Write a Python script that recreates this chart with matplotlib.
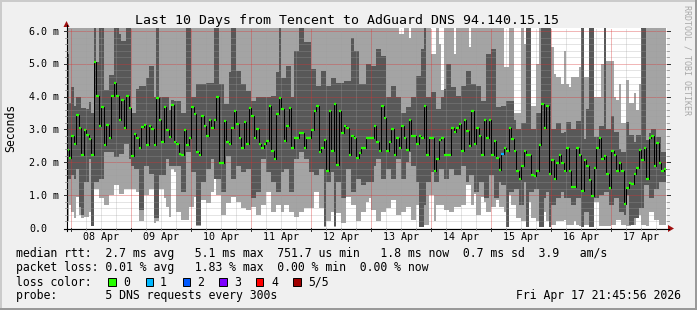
import numpy as np
import matplotlib
matplotlib.use("Agg")
import matplotlib.pyplot as plt
from matplotlib.lines import Line2D
from matplotlib.patches import Rectangle, Polygon

# ---------------- data (hourly bins, values in milliseconds) ----------------
title = "Last 10 Days from Tencent to AdGuard DNS 94.140.15.15"
day_labels = ["08 Apr", "09 Apr", "10 Apr", "11 Apr", "12 Apr",
              "13 Apr", "14 Apr", "15 Apr", "16 Apr", "17 Apr"]
y_labels = ["0.0", "1.0 m", "2.0 m", "3.0 m", "4.0 m", "5.0 m", "6.0 m"]
first_bin_hour = 22          # hours after 07 Apr 00:00 of first bin
n_bins = 240

median = [
    2.39, 2.13, 2.80, 2.56, 3.45, 3.04, 2.21, 2.97, 2.82, 2.70,
    2.21, 5.04, 4.03, 3.12, 3.67, 2.52, 3.13, 2.74, 4.01, 4.41,
    4.03, 3.28, 3.91, 3.06, 4.03, 3.65, 2.19, 2.86, 2.74, 2.45,
    3.08, 3.14, 2.54, 3.10, 3.00, 2.54, 3.97, 3.30, 2.62, 3.68,
    2.98, 2.76, 3.76, 2.62, 2.56, 2.25, 2.21, 2.98, 2.52, 2.74,
    3.67, 3.46, 2.31, 2.21, 3.42, 3.10, 2.80, 3.30, 3.06, 3.30,
    3.98, 1.98, 1.98, 3.27, 2.61, 2.57, 3.06, 3.55, 3.16, 2.74,
    2.44, 3.24, 2.56, 3.64, 3.40, 2.74, 3.00, 2.57, 2.45, 2.57,
    2.64, 3.71, 2.33, 2.09, 3.48, 3.97, 3.61, 2.64, 3.12, 3.64,
    2.45, 2.74, 2.74, 2.88, 2.88, 2.45, 2.74, 2.74, 2.97, 3.55,
    3.71, 2.31, 2.45, 2.67, 1.73, 3.55, 2.33, 3.79, 1.91, 3.55,
    2.88, 3.12, 3.06, 2.21, 2.80, 2.74, 2.13, 2.27, 2.43, 2.45,
    2.74, 2.74, 2.74, 3.12, 2.62, 2.33, 3.71, 3.34, 2.33, 2.62,
    3.00, 2.21, 2.74, 2.45, 3.12, 2.74, 2.39, 3.30, 2.80, 2.80,
    2.56, 2.80, 2.74, 3.71, 2.21, 2.74, 2.74, 1.73, 2.09, 2.68,
    2.74, 2.21, 2.21, 2.21, 3.04, 2.92, 3.06, 3.18, 2.33, 3.30,
    2.94, 2.49, 3.55, 2.56, 3.06, 2.80, 2.21, 3.30, 2.74, 3.30,
    2.21, 2.64, 2.13, 1.77, 2.25, 2.43, 2.33, 3.06, 2.70, 2.33,
    1.73, 1.48, 1.89, 2.33, 2.21, 2.21, 1.61, 1.59, 1.73, 2.52,
    3.77, 3.04, 3.73, 1.65, 2.07, 1.48, 1.97, 2.21, 1.97, 1.73,
    2.45, 1.73, 1.24, 1.24, 2.45, 2.21, 1.12, 2.07, 1.89, 1.46,
    0.98, 1.83, 2.45, 2.74, 2.09, 2.19, 1.65, 1.22, 2.33, 2.21,
    1.73, 1.97, 1.73, 0.74, 1.22, 1.36, 1.34, 1.65, 1.83, 2.37,
    2.07, 2.45, 1.48, 2.74, 2.80, 1.89, 2.58, 1.97, 1.73, 1.80,
]

# 2nd / 4th sorted ping (dark smoke)
ping_hi = [
    5.3, 3.8, 4.3, 3.7, 4.0, 4.0, 3.66, 3.66, 3.63, 3.85,
    3.5, 6.5, 5.04, 6.5, 6.5, 4.2, 4.2, 4.67, 4.67, 6.5,
    6.5, 5.9, 5.7, 5.7, 6.5, 6.5, 3.5, 3.5, 4.23, 4.33,
    4.33, 4.33, 4.58, 4.94, 4.94, 4.0, 6.5, 4.0, 3.98, 3.98,
    3.98, 3.6, 3.9, 3.88, 3.88, 3.88, 3.5, 3.5, 6.5, 6.5,
    3.98, 3.98, 4.38, 4.38, 4.38, 4.38, 4.43, 4.43, 4.43, 6.5,
    6.5, 4.38, 4.38, 3.78, 3.78, 4.74, 6.5, 6.5, 4.79, 4.79,
    4.38, 4.38, 4.18, 4.18, 3.88, 3.88, 3.98, 3.98, 3.98, 3.98,
    3.98, 3.98, 4.03, 4.03, 4.74, 6.5, 4.58, 4.58, 4.94, 4.94,
    4.0, 5.4, 5.4, 6.5, 6.5, 5.65, 5.65, 5.65, 4.84, 4.84,
    4.33, 4.33, 4.79, 4.79, 4.33, 4.33, 4.58, 4.58, 4.43, 4.43,
    4.43, 4.48, 4.48, 4.48, 5.8, 5.4, 5.4, 4.38, 4.38, 4.38,
    5.0, 5.0, 4.94, 4.94, 5.45, 5.45, 5.24, 5.24, 3.98, 3.98,
    4.33, 4.33, 3.98, 3.98, 3.5, 3.5, 3.68, 3.68, 3.98, 3.98,
    4.64, 4.64, 5.45, 6.5, 3.98, 3.98, 4.13, 4.13, 3.63, 3.63,
    4.0, 4.23, 5.0, 5.0, 4.28, 4.28, 4.03, 4.03, 4.33, 4.33,
    4.79, 4.79, 4.38, 4.38, 4.33, 4.33, 3.88, 3.88, 5.3, 5.3,
    5.45, 5.45, 3.68, 3.68, 3.73, 3.73, 3.88, 3.88, 3.88, 3.3,
    3.0, 3.0, 3.2, 3.2, 6.5, 6.5, 3.0, 3.0, 3.5, 3.5,
    6.5, 6.5, 6.5, 6.5, 3.0, 3.0, 3.2, 3.2, 2.9, 2.92,
    3.22, 3.22, 3.02, 3.02, 3.27, 3.27, 6.5, 2.72, 3.63, 6.5,
    6.5, 2.77, 2.77, 3.12, 3.12, 6.5, 3.02, 3.02, 3.42, 2.92,
    2.92, 2.41, 2.31, 2.31, 3.22, 2.82, 2.82, 2.62, 2.82, 2.82,
    6.5, 6.5, 2.67, 2.9, 3.02, 3.02, 2.77, 2.77, 2.31, 2.31,
]

ping_lo = [
    1.5, 1.5, 1.6, 1.5, 1.8, 0.65, 0.4, 1.4, 1.4, 2.1,
    0.05, 1.4, 1.4, 1.5, 1.5, 2.3, 2.3, 2.3, 2.3, 2.15,
    2.15, 2.25, 2.25, 2.55, 2.55, 2.1, 1.9, 1.8, 1.8, 0.55,
    0.55, 1.9, 1.9, 1.65, 1.65, 0.3, 0.3, 1.6, 1.6, 1.6,
    2.1, 1.9, 1.9, 1.9, 1.9, 1.9, 1.1, 1.1, 2.3, 2.3,
    1.7, 1.7, 0.1, 0.1, 1.4, 1.4, 1.8, 1.8, 2.1, 1.5,
    1.5, 1.5, 1.1, 1.1, 2.2, 2.2, 1.5, 1.5, 1.9, 1.9,
    1.7, 1.7, 1.8, 1.8, 0.9, 0.9, 1.1, 1.1, 2.1, 2.1,
    1.7, 1.7, 1.4, 1.4, 1.1, 1.1, 1.7, 1.8, 1.8, 1.1,
    1.1, 2.1, 2.1, 2.3, 2.3, 2.1, 2.1, 1.7, 1.7, 1.6,
    1.6, 1.8, 1.8, 0.05, 1.4, 1.4, 1.7, 0.05, 1.4, 1.4,
    0.9, 0.9, 1.8, 1.8, 1.1, 1.1, 1.5, 1.5, 1.3, 1.3,
    1.4, 1.4, 1.4, 1.9, 2.1, 2.1, 1.5, 1.5, 1.8, 1.8,
    1.5, 1.5, 2.1, 2.1, 1.5, 1.5, 2.0, 2.3, 1.9, 1.9,
    1.4, 0.03, 0.03, 0.7, 1.4, 1.4, 1.7, 1.4, 1.4, 1.8,
    1.8, 1.5, 1.5, 1.8, 1.8, 1.6, 1.6, 1.6, 1.9, 1.9,
    1.4, 1.6, 1.6, 1.1, 1.1, 1.4, 1.4, 0.9, 0.9, 1.6,
    1.6, 0.9, 0.9, 1.4, 1.3, 1.3, 0.03, 1.1, 1.1, 1.2,
    1.2, 0.7, 0.7, 1.4, 0.03, 1.1, 1.1, 1.2, 1.2, 0.03,
    0.03, 0.9, 1.1, 0.03, 0.7, 0.7, 0.9, 0.9, 1.1, 0.9,
    0.9, 0.9, 0.7, 0.7, 0.9, 0.9, 0.03, 0.5, 0.5, 0.03,
    0.03, 0.9, 0.9, 1.0, 1.0, 1.1, 1.1, 0.7, 0.7, 0.9,
    0.9, 0.5, 0.5, 0.4, 1.0, 0.1, 0.1, 0.3, 0.3, 0.6,
    0.6, 1.3, 1.3, 0.9, 0.9, 1.2, 1.2, 1.4, 1.4, 1.4,
]

# 1st / 5th sorted ping (light smoke)
ping_min = [
    0.2, 0.7, 0.5, 0.3, 0.95, 0.4, 0.3, 0.35, 0.35, 0.5,
    0.05, 1.2, 1.2, 0.9, 0.9, 0.7, 0.7, 1.0, 1.0, 1.3,
    1.3, 1.05, 1.05, 1.2, 1.2, 1.2, 1.2, 1.2, 1.1, 0.2,
    0.2, 1.0, 1.0, 1.2, 1.2, 0.15, 0.2, 1.2, 1.2, 0.9,
    0.65, 0.35, 1.8, 1.7, 0.5, 0.5, 0.25, 0.25, 0.25, 0.65,
    0.65, 0.95, 0.05, 0.05, 0.85, 0.85, 0.75, 0.75, 1.1, 1.5,
    1.0, 1.0, 0.4, 0.4, 0.75, 0.75, 0.95, 0.95, 0.8, 0.8,
    0.6, 0.6, 0.55, 0.55, 0.65, 0.65, 0.4, 0.4, 0.7, 0.7,
    1.1, 1.1, 0.5, 0.5, 0.7, 0.7, 0.5, 0.7, 0.7, 0.5,
    0.5, 0.35, 0.35, 0.5, 0.5, 0.6, 0.6, 0.6, 0.6, 1.1,
    1.1, 0.6, 0.6, 0.03, 0.2, 0.2, 0.5, 0.03, 0.45, 0.45,
    0.15, 0.15, 0.95, 0.95, 0.7, 0.7, 0.2, 0.2, 0.5, 0.5,
    0.8, 0.9, 0.55, 0.55, 0.2, 0.2, 0.5, 0.5, 0.6, 0.6,
    0.85, 0.85, 0.4, 0.4, 0.5, 0.5, 0.65, 0.65, 0.25, 0.25,
    0.7, 0.03, 0.03, 0.1, 0.1, 1.0, 1.0, 0.2, 0.7, 0.7,
    0.7, 0.55, 0.55, 0.5, 0.5, 0.65, 0.65, 0.65, 0.7, 0.7,
    1.3, 1.3, 0.7, 1.05, 0.4, 0.4, 0.95, 0.8, 0.5, 0.5,
    0.65, 0.65, 0.85, 0.65, 0.65, 0.5, 0.03, 1.0, 0.7, 0.7,
    0.3, 0.3, 0.2, 0.2, 0.03, 0.8, 0.3, 0.3, 0.2, 0.03,
    0.03, 0.5, 0.2, 0.03, 0.1, 0.1, 0.2, 0.2, 0.2, 0.25,
    0.1, 0.1, 0.1, 0.2, 0.1, 0.05, 0.03, 0.1, 0.1, 0.03,
    0.03, 0.8, 0.8, 0.05, 0.05, 0.05, 0.05, 0.05, 0.1, 0.1,
    0.25, 0.25, 0.1, 0.1, 0.05, 0.05, 0.1, 0.1, 0.4, 0.4,
    0.1, 0.1, 0.05, 0.5, 0.5, 0.25, 0.25, 0.1, 0.1, 0.1,
]

ping_max = [
    6.5, 6.5, 6.5, 6.5, 6.5, 6.5, 6.5, 6.5, 6.5, 6.5,
    6.5, 6.5, 6.5, 6.5, 6.5, 6.5, 6.5, 6.5, 6.5, 6.5,
    6.5, 6.5, 6.5, 6.5, 6.5, 6.5, 6.5, 6.5, 6.5, 6.5,
    6.5, 6.5, 6.5, 6.5, 6.5, 6.5, 6.5, 6.5, 6.5, 6.5,
    6.5, 6.5, 6.5, 6.5, 6.5, 6.5, 6.5, 6.5, 6.5, 6.5,
    6.5, 6.5, 6.5, 6.5, 6.5, 6.5, 6.5, 6.5, 6.5, 6.5,
    6.5, 6.5, 6.5, 6.5, 6.5, 6.5, 6.5, 6.5, 6.5, 6.5,
    6.5, 6.5, 6.5, 6.5, 6.5, 6.5, 6.5, 6.5, 6.5, 6.5,
    6.5, 6.5, 6.5, 6.5, 6.5, 6.5, 6.5, 6.5, 6.5, 6.5,
    6.5, 6.5, 6.5, 6.5, 6.5, 6.5, 6.5, 6.5, 6.5, 6.5,
    6.5, 6.5, 6.5, 6.5, 6.5, 6.5, 6.5, 6.5, 6.5, 6.5,
    6.5, 6.5, 6.5, 6.5, 6.5, 6.5, 6.5, 6.5, 6.5, 6.5,
    6.5, 6.5, 6.5, 6.5, 6.5, 6.5, 6.5, 6.5, 6.5, 6.5,
    6.5, 6.5, 6.5, 5.9, 5.9, 6.5, 6.5, 5.8, 6.5, 6.5,
    6.5, 6.5, 6.5, 6.5, 6.5, 6.5, 5.3, 5.3, 6.5, 5.6,
    4.2, 6.5, 6.5, 6.5, 6.5, 5.3, 6.5, 6.5, 6.5, 6.5,
    6.5, 5.5, 6.5, 6.5, 6.5, 6.5, 6.5, 6.5, 6.5, 6.5,
    6.5, 6.5, 6.5, 6.5, 6.5, 4.9, 4.9, 6.5, 6.5, 3.5,
    3.5, 3.5, 6.5, 5.6, 6.5, 6.5, 3.7, 3.7, 5.0, 6.5,
    6.5, 6.5, 6.5, 6.5, 5.5, 4.7, 4.6, 4.6, 4.4, 5.4,
    4.4, 4.3, 4.6, 4.6, 4.6, 4.9, 6.5, 4.6, 4.6, 6.5,
    6.5, 4.0, 4.0, 4.0, 5.0, 6.5, 5.1, 5.1, 5.1, 4.0,
    3.9, 4.4, 3.2, 3.2, 4.5, 3.8, 3.8, 4.1, 3.6, 4.4,
    6.5, 6.5, 6.5, 6.5, 6.5, 6.5, 6.5, 6.5, 6.5, 6.5,
]

loss_events = {174: 1}       # bin index -> lost pings
loss_colors = ["#26ff00", "#00b8ff", "#0059ff", "#7e00ff", "#ff0000", "#a00000"]
loss_names = ["0", "1", "2", "3", "4", "5/5"]

legend_lines = [
    "median rtt:  2.7 ms avg   5.1 ms max  751.7 us min   1.8 ms now  0.7 ms sd  3.9   am/s",
    "packet loss: 0.01 % avg   1.83 % max  0.00 % min  0.00 % now",
]
probe_text = "probe:       5 DNS requests every 300s"
stamp = "Fri Apr 17 21:45:56 2026"

assert len(median) == len(ping_hi) == len(ping_lo) == len(ping_min) == len(ping_max) == n_bins

# ---------------- layout ----------------
W, H = 697, 310
MONO = "DejaVu Sans Mono"
fig = plt.figure(figsize=(W / 100, H / 100), dpi=100)
fig.patch.set_facecolor("#f0f0f0")

PL, PR, PT, PB = 67, 667, 28, 228
X0, X1 = 22.4, 262.4          # hours since 07 Apr 00:00 at plot edges
YMAX = 6.09


def fx(x):
    return x / W


def fy(y):
    return 1 - y / H


def hx(h):
    return PL + (h - X0) * (PR - PL) / (X1 - X0)


def vy(v):
    return PB - v * (PB - PT) / YMAX


ax = fig.add_axes([fx(PL), fy(PB), (PR - PL) / W, (PB - PT) / H])
ax.set_facecolor("white")
for s in ax.spines.values():
    s.set_visible(False)
ax.set_xticks([])
ax.set_yticks([])
ax.set_xlim(X0, X1)
ax.set_ylim(0, YMAX)

edges = np.arange(first_bin_hour, first_bin_hour + n_bins + 1)

# smoke
ax.stairs(ping_max, edges, baseline=ping_min, fill=True, color="#a4a4a4", lw=0, zorder=1)
ax.stairs(ping_hi, edges, baseline=ping_lo, fill=True, color="#585858", lw=0, zorder=2)

# grid
minor_col = (0.62, 0.62, 0.62, 0.55)
major_col = (0.85, 0.2, 0.2, 0.7)
minor_y = [v for v in np.arange(0.2, 6.01, 0.2) if abs(v - round(v)) > 0.01]
ax.hlines(minor_y, X0, X1, colors=[minor_col], lw=0.72,
          linestyles=(0, (1, 1)), zorder=3)
major_y = np.arange(1, 7)
ax.hlines(major_y, X0, X1, colors=[major_col], lw=0.72,
          linestyles=(0, (1, 1)), zorder=3)
hours_minor = [h for h in range(24, 262, 6) if h % 24 != 0]
ax.vlines(hours_minor, 0, YMAX, colors=[minor_col], lw=0.72,
          linestyles=(0, (1, 1)), zorder=3)
hours_major = list(range(24, 262, 24))
ax.vlines(hours_major, 0, YMAX, colors=[major_col], lw=0.72,
          linestyles=(0, (1, 1)), zorder=3)

# median: black step line + coloured dashes
ax.stairs(median, edges, baseline=None, color="black", lw=0.72, zorder=4)
med_colors = [loss_colors[loss_events.get(i, 0)] for i in range(n_bins)]
ax.hlines(median, edges[:-1], edges[1:], colors=med_colors, lw=1.6, zorder=5,
          capstyle="butt")

# ---------------- axes lines & arrows (figure pixels) ----------------
def fline(xs, ys, **kw):
    fig.add_artist(Line2D([fx(x) for x in xs], [fy(y) for y in ys],
                          transform=fig.transFigure, **kw))


fline([64, 669], [PB + 0.5, PB + 0.5], color="black", lw=0.8)
fline([PL - 0.5, PL - 0.5], [PB + 3, 25], color="black", lw=0.8)
arrow_col = "#a01010"
fig.add_artist(Polygon([(fx(668), fy(225)), (fx(668), fy(232)), (fx(674), fy(228.5))],
                       closed=True, transform=fig.transFigure, color=arrow_col, lw=0))
fig.add_artist(Polygon([(fx(63.5), fy(27)), (fx(69.5), fy(27)), (fx(66.5), fy(21))],
                       closed=True, transform=fig.transFigure, color=arrow_col, lw=0))

# ticks
for v in major_y:
    y = vy(v)
    fline([63.5, 66.5], [y, y], color="#303030", lw=0.7)
    fline([PR, PR + 3], [y, y], color="#303030", lw=0.7)
for v in minor_y:
    y = vy(v)
    fline([64.5, 66.5], [y, y], color="#909090", lw=0.6)
    fline([PR, PR + 2], [y, y], color="#909090", lw=0.6)
for h in hours_major:
    x = hx(h)
    fline([x, x], [PB, PB + 3], color="#303030", lw=0.7)
for h in hours_minor:
    x = hx(h)
    fline([x, x], [PB, PB + 2], color="#909090", lw=0.6)

# ---------------- text ----------------
fig.text(fx(347), fy(24), title, ha="center", va="baseline", fontsize=9.55,
         family=MONO, color="black")

for i, lab in enumerate(y_labels):
    fig.text(fx(29), fy(vy(i) + 3.7), lab, ha="left", va="baseline",
             fontsize=7.2, family=MONO, color="black")

for i, lab in enumerate(day_labels):
    h = 36 + 24 * i
    fig.text(fx(hx(h)), fy(240.5), lab, ha="center", va="baseline",
             fontsize=7.2, family=MONO, color="black")

fig.text(fx(10.5), fy(128), "Seconds", rotation=90, ha="center", va="center",
         fontsize=8.3, family=MONO, color="black")
fig.text(fx(687.5), fy(60), "RRDTOOL / TOBI OETIKER", rotation=270, ha="center",
         va="center", fontsize=6.0, family=MONO, color="#a8a8a8")

fig.text(fx(16), fy(257.5), legend_lines[0], ha="left", va="baseline",
         fontsize=8.3, family=MONO, color="black")
fig.text(fx(16), fy(271.2), legend_lines[1], ha="left", va="baseline",
         fontsize=8.3, family=MONO, color="black")
fig.text(fx(16), fy(285.5), "loss color:", ha="left", va="baseline",
         fontsize=8.3, family=MONO, color="black")
box_x = [108.3, 145.7, 182.7, 219.3, 256.0, 293.3]
lab_x = [123.0, 160.0, 197.0, 234.0, 271.0, 308.0]
for bx, lx, c, nm in zip(box_x, lab_x, loss_colors, loss_names):
    fig.add_artist(Rectangle((fx(bx), fy(286)), 7.4 / W, 7.6 / H,
                             transform=fig.transFigure, facecolor=c,
                             edgecolor="black", lw=0.7))
    fig.text(fx(lx), fy(285.5), nm, ha="left", va="baseline",
             fontsize=8.3, family=MONO, color="black")
fig.text(fx(16), fy(299.5), probe_text, ha="left", va="baseline",
         fontsize=8.3, family=MONO, color="black")
fig.text(fx(680.5), fy(299.5), stamp, ha="right", va="baseline",
         fontsize=8.3, family=MONO, color="black")

# ---------------- 3D border ----------------
fig.add_artist(Rectangle((0, fy(2)), 1, 2 / H, transform=fig.transFigure,
                         facecolor="#cbcbcb", lw=0))
fig.add_artist(Rectangle((0, 0), 2 / W, 1, transform=fig.transFigure,
                         facecolor="#cbcbcb", lw=0))
fig.add_artist(Rectangle((0, 0), 1, 2 / H, transform=fig.transFigure,
                         facecolor="#999999", lw=0))
fig.add_artist(Rectangle((fx(W - 2), 0), 2 / W, 1, transform=fig.transFigure,
                         facecolor="#999999", lw=0))

fig.savefig("out.png", dpi=100, facecolor=fig.get_facecolor())
